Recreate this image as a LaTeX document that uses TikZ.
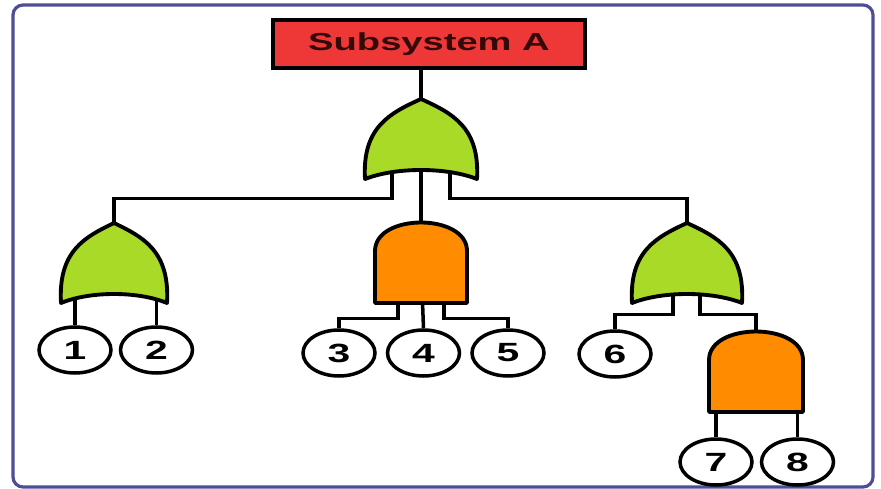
\documentclass[tikz,border=0pt]{standalone}
\usepackage{fontspec}
\setmainfont{Liberation Sans}
\newfontfamily\widefont{Liberation Sans}[FakeStretch=1.55]
\usepackage{xcolor}
\usepackage{tikz}
\usetikzlibrary{shapes.geometric, calc, positioning}

\definecolor{sysred}{RGB}{238,56,56}
\definecolor{orgreen}{RGB}{170,218,40}
\definecolor{andorange}{RGB}{255,140,0}
\definecolor{framecol}{RGB}{78,78,148}

\begin{document}
\begin{tikzpicture}[x=0.02cm, y=-0.02cm,
  wire/.style={line width=2pt, black},
  gateline/.style={line width=2.2pt, black, line join=round},
  gatebox/.style={rectangle, inner sep=0pt, minimum height=1.6cm},
  event/.style={ellipse, draw, line width=2pt, fill=white, inner sep=0pt,
    minimum width=1.44cm, minimum height=0.92cm,
    font=\widefont\fontsize{15}{17}\selectfont\bfseries}]
\useasboundingbox (0,0) rectangle (881,489);
\draw[framecol, line width=1.8pt, rounded corners=0.2cm] (13,5) rectangle (873,487);

% top event
\node (sys) [rectangle, draw, line width=2pt, fill=sysred, minimum width=6.24cm, minimum height=0.96cm,
  font=\widefont\fontsize{14}{16}\selectfont\bfseries, text={rgb,255:red,50;green,10;blue,10}] at (429,44) {Subsystem A};

% gates (placeholders, shapes drawn below)
\node (gtop) [gatebox, minimum width=2.2cm] at (421,139) {};
\node (gl) [gatebox, minimum width=2.12cm] at (114,263) {};
\node (ga) [gatebox, minimum width=1.84cm] at (421,263) {};
\node (gr) [gatebox, minimum width=2.2cm] at (687,263) {};
\node (gb) [gatebox, minimum width=1.88cm] at (756,372) {};

% basic events
\node (e1) [event] at (75,350) {1};
\node (e2) [event, right=0.12cm of e1] {2};
\node (e3) [event] at (339,353) {3};
\node (e4) [event, right=0.18cm of e3] {4};
\node (e5) [event, right=0.18cm of e4] {5};
\node (e6) [event] at (615,354) {6};
\node (e7) [event] at (716,462) {7};
\node (e8) [event, right=0.12cm of e7] {8};

% connectors
\draw[wire] (sys.south -| gtop.north) -- (gtop.north);
\draw[wire] ($(gtop.south)+(-29,-20)$) -- ++(0,39) -| (gl.north);
\draw[wire] (gtop.center) -- (ga.north);
\draw[wire] ($(gtop.south)+(29,-20)$) -- ++(0,39) -| (gr.north);
\draw[wire] (gl.center -| e1.north) -- (e1.north);
\draw[wire] (gl.center -| e2.north) -- (e2.north);
\draw[wire] ($(ga.south)+(-23,-10)$) -- ++(0,25) -| (e3.north);
\draw[wire] (ga.center) -- (e4.north);
\draw[wire] ($(ga.south)+(23,-10)$) -- ++(0,25) -| (e5.north);
\draw[wire] ($(gr.south)+(-14,-13)$) -- ++(0,24) -| (e6.north);
\draw[wire] ($(gr.south)+(13,-13)$) -- ++(0,24) -| (gb.north);
\draw[wire] (gb.center -| e7.north) -- (e7.north);
\draw[wire] (gb.center -| e8.north) -- (e8.north);

% OR gates
\foreach \g/\w in {gtop/56, gl/53, gr/55}
  \filldraw[gateline, fill=orgreen, shift={(\g.center)}]
    (-\w,40) .. controls (-\w-3,-12) and (-0.55*\w,-26) .. (0,-40)
    .. controls (0.55*\w,-26) and (\w+3,-12) .. (\w,40)
    .. controls (0.45*\w,28) and (-0.45*\w,28) .. (-\w,40) -- cycle;
% AND gates
\foreach \g/\w in {ga/46, gb/47}
  \filldraw[gateline, fill=andorange, shift={(\g.center)}]
    (-\w,40) -- (-\w,-12) .. controls (-\w,-50) and (\w,-50) .. (\w,-12)
    -- (\w,40) -- cycle;
\end{tikzpicture}
\end{document}
